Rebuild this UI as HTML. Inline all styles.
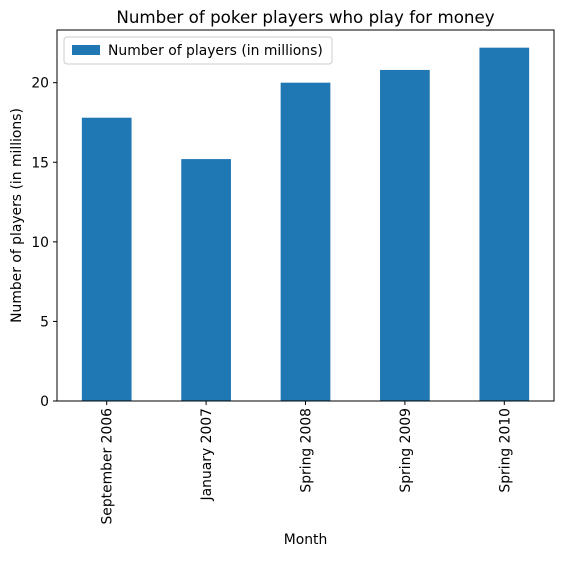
<!DOCTYPE html>
<html><head><meta charset="utf-8"><style>
body{margin:0;background:#fff;font-family:"DejaVu Sans","Liberation Sans",sans-serif;}
</style></head><body>
<svg width="562" height="557" xmlns="http://www.w3.org/2000/svg" font-family="DejaVu Sans, sans-serif">
<g id="chart"></g>
</svg>
<script>
const categories=["September 2006","January 2007","Spring 2008","Spring 2009","Spring 2010"];
const values=[17.8,15.2,20.0,20.8,22.2];
const yTicks=[0,5,10,15,20];
const L=57,R=554,T=30,B=401;
const yMax=Math.max(...values)*1.05;
const y=v=>B-(v/yMax)*(B-T);
const step=(R-L)/categories.length;
const xc=i=>L+step*(i+0.5);
const NS="http://www.w3.org/2000/svg";
const g=document.getElementById('chart');
function mk(tag,attrs,text){const e=document.createElementNS(NS,tag);for(const k in attrs)e.setAttribute(k,attrs[k]);if(text!=null)e.textContent=text;g.appendChild(e);return e;}
values.forEach((v,i)=>{
  const r=mk('rect',{x:xc(i)-step/4,y:y(v),width:step/2,height:B-y(v),fill:'#1f77b4'});
  
  
});
const frame=mk('rect',{x:L,y:T,width:R-L,height:B-T,fill:'none',stroke:'#000','stroke-width':1});


yTicks.forEach(t=>{
  mk('line',{x1:L-4,x2:L,y1:y(t),y2:y(t),stroke:'#000'});
  const tx=mk('text',{x:L-8,y:y(t)+5,'text-anchor':'end','font-size':13.9,fill:'#000'},String(t));
  
  
});
categories.forEach((c,i)=>{
  mk('line',{x1:xc(i),x2:xc(i),y1:B,y2:B+4,stroke:'#000'});
  const tx=mk('text',{x:0,y:0,'text-anchor':'end','font-size':13.9,fill:'#000',transform:`translate(${xc(i)+5},${B+7}) rotate(-90)`},c);
  
  
});
const title=mk('text',{x:(L+R)/2,y:T-7,'text-anchor':'middle','font-size':16.7,fill:'#000'},'Number of poker players who play for money');


const xt=mk('text',{x:(L+R)/2,y:544,'text-anchor':'middle','font-size':13.9,fill:'#000'},'Month');


const yt=mk('text',{x:0,y:0,'text-anchor':'middle','font-size':13.9,fill:'#000',transform:`translate(21,${(T+B)/2}) rotate(-90)`},'Number of players (in millions)');


const lg=mk('rect',{x:64,y:37,width:268,height:27,fill:'#fff',stroke:'#ccc',rx:3});


mk('rect',{x:72,y:45,width:28,height:10,fill:'#1f77b4'});
const lt=mk('text',{x:108,y:55,'font-size':13.9,fill:'#000'},'Number of players (in millions)');


</script>
</body></html>
